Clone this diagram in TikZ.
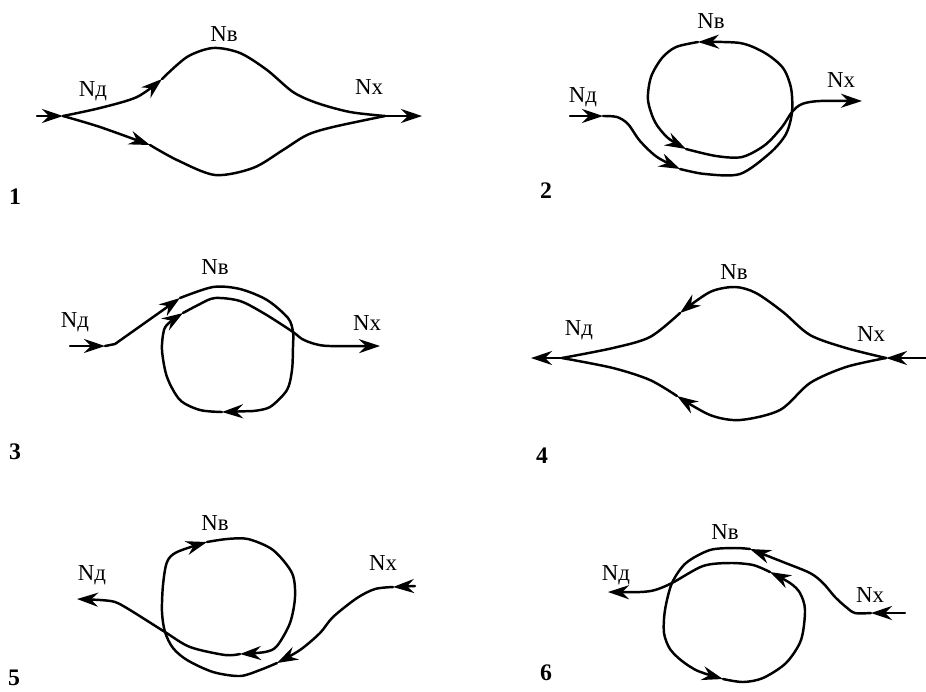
\documentclass[tikz,border=0pt]{standalone}
\usepackage{fontspec}
\setmainfont{Liberation Serif}
\usepackage{tikz}
\usetikzlibrary{arrows.meta}

\tikzset{
  flow/.style={line width=1.4pt, line join=round, line cap=round},
  arr/.style={flow, -{Stealth[length=12pt, width=8pt, inset=4pt]}},
  lbl/.style={font=\fontsize{13}{15}\selectfont, inner sep=0pt},
  num/.style={font=\fontsize{13.5}{15}\selectfont\bfseries, inner sep=0pt}
}

\begin{document}
\begin{tikzpicture}[x=0.02cm, y=-0.02cm]
\useasboundingbox (0,0) rectangle (926,691);

% Scheme 1
\coordinate (in1) at (37,116);
\coordinate (d1) at (63,116);
\coordinate (x1) at (385,116);
\coordinate (out1) at (422,116);
\draw[arr] (in1) -- (d1);
\draw[arr] plot[smooth] coordinates {(d1) (100,108) (137,97) (162,79)};
\draw[flow] plot[smooth] coordinates {(162,79) (187,57) (213,48) (240,53) (267,70)
    (293,92) (317,103) (350,112) (x1)};
\draw[arr] plot[smooth] coordinates {(d1) (100,127) (150,145)};
\draw[flow] plot[smooth] coordinates {(150,145) (177,160) (215,175) (253,168)
    (283,150) (307,135) (333,127) (x1)};
\draw[arr] (x1) -- (out1);
\node[lbl] (nd1) at (93,91) {Nд};
\node[lbl] (nv1) at (224,34) {Nв};
\node[lbl] (nx1) at (369,87) {Nх};
\node[num] (n1) at (15,197) {1};

% Scheme 2
\coordinate (in2) at (570,116);
\coordinate (x2) at (792,112);
\coordinate (out2) at (862,101);
\draw[arr] (in2) -- (603,116);
\draw[arr] plot[smooth] coordinates {(603,116) (617,117) (628,124) (640,141)
    (657,157) (680,169)};
\draw[arr] plot[smooth] coordinates {(680,169) (705,174) (740,174) (770,153)
    (786,134) (x2) (791,88) (783,68) (765,53) (740,43) (698,42)};
\draw[arr] plot[smooth] coordinates {(698,42) (676,47) (662,58) (651,77)
    (648,100) (655,122) (668,138) (686,149)};
\draw[arr] plot[smooth] coordinates {(686,149) (716,156) (742,157) (765,145)
    (782,127) (x2) (802,104) (820,101) (out2)};
\node[lbl] (nd2) at (583,97) {Nд};
\node[lbl] (nv2) at (711,21) {Nв};
\node[lbl] (nx2) at (841,80) {Nх};
\node[num] (n2) at (546,191) {2};

% Scheme 3
\coordinate (in3) at (70,346);
\coordinate (x3) at (293,332);
\coordinate (out3) at (380,346);
\draw[arr] (in3) -- (105,346);
\draw[arr] (105,346) -- (115,344) -- (180,298);
\draw[flow] plot[smooth] coordinates {(180,298) (213,287) (240,289) (267,300)
    (288,318) (x3) (293,347) (292,370) (287,390) (270,407) (253,411)};
\draw[arr] (253,411) -- (222,412);
\draw[arr] plot[smooth] coordinates {(222,412) (200,410) (180,400) (167,377)
    (162,350) (164,330) (170,322) (183,313)};
\draw[arr] plot[smooth] coordinates {(183,313) (200,304) (215,298) (240,301)
    (265,314) (x3) (302,339) (315,344) (330,346) (out3)};
\node[lbl] (nd3) at (75,322) {Nд};
\node[lbl] (nv3) at (215,267) {Nв};
\node[lbl] (nx3) at (367,323) {Nх};
\node[num] (n3) at (15,452) {3};

% Scheme 4
\coordinate (in4) at (926,358);
\coordinate (x4) at (886,358);
\coordinate (d4) at (562,358);
\coordinate (out4) at (531,358);
\draw[arr] (in4) -- (x4);
\draw[arr] plot[smooth] coordinates {(x4) (846,348) (810,335) (783,312) (756,293)
    (735,287) (710,292) (680,313)};
\draw[flow] plot[smooth] coordinates {(680,313) (650,337) (613,348) (d4)};
\draw[arr] plot[smooth] coordinates {(x4) (846,367) (810,383) (780,410) (740,420)
    (710,415) (677,396)};
\draw[flow] plot[smooth] coordinates {(677,396) (650,380) (613,368) (d4)};
\draw[arr] (d4) -- (out4);
\node[lbl] (nd4) at (579,330) {Nд};
\node[lbl] (nv4) at (734,272) {Nв};
\node[lbl] (nx4) at (871,334) {Nх};
\node[num] (n4) at (542,456) {4};

% Scheme 5
\coordinate (in5) at (415,586);
\coordinate (x5) at (165,632);
\coordinate (out5) at (77,599);
\draw[arr] (in5) -- (393,587);
\draw[arr] plot[smooth] coordinates {(393,587) (375,589) (357,598) (333,617)
    (320,633) (300,650) (277,663)};
\draw[arr] plot[smooth] coordinates {(277,663) (260,670) (240,676) (213,672)
    (187,660) (173,648) (x5) (162,612) (163,585) (167,562) (177,552) (207,542)};
\draw[arr] plot[smooth] coordinates {(207,542) (227,539) (248,539) (273,550)
    (292,573) (295,597) (290,623) (277,646) (265,652) (240,654)};
\draw[arr] plot[smooth] coordinates {(240,654) (225,655) (190,647) (x5) (130,610)
    (115,602) (100,600) (out5)};
\node[lbl] (nd5) at (92,575) {Nд};
\node[lbl] (nv5) at (215,523) {Nв};
\node[lbl] (nx5) at (383,563) {Nх};
\node[num] (n5) at (14,678) {5};

% Scheme 6
\coordinate (in6) at (905,613);
\coordinate (x6) at (672,583);
\coordinate (out6) at (608,592);
\draw[arr] (in6) -- (871,613);
\draw[arr] plot[smooth] coordinates {(871,613) (855,613) (846,607) (835,597)
    (823,583) (810,573) (783,562) (750,549)};
\draw[arr] plot[smooth] coordinates {(750,549) (735,548) (710,550) (686,563) (x6)
    (665,610) (664,633) (670,649) (682,661) (698,671) (723,679)};
\draw[arr] plot[smooth] coordinates {(723,679) (743,682) (763,678) (786,663)
    (801,640) (805,610) (800,593) (790,583) (770,572)};
\draw[arr] plot[smooth] coordinates {(770,572) (753,565) (730,563) (703,566) (x6)
    (655,590) (640,592) (out6)};
\node[lbl] (nd6) at (616,575) {Nд};
\node[lbl] (nv6) at (725,532) {Nв};
\node[lbl] (nx6) at (870,595) {Nх};
\node[num] (n6) at (546,673) {6};
\end{tikzpicture}
\end{document}
